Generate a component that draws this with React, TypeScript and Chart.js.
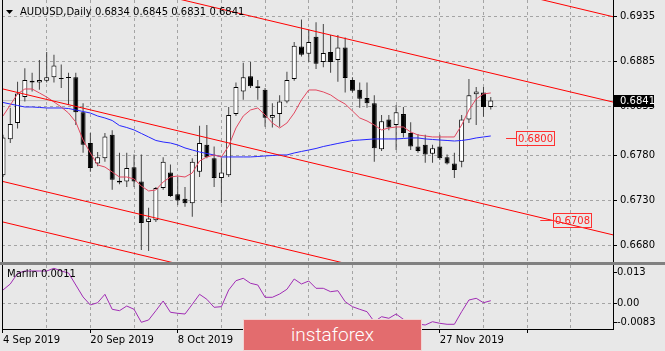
import React, { useEffect, useRef } from 'react';
import { Chart, registerables } from 'chart.js';

Chart.register(...registerables);

// ---------- data ----------
const symbolTitle = 'AUDUSD,Daily';
const dateLabels = ['4 Sep 2019', '20 Sep 2019', '8 Oct 2019', '24 Oct 2019', '11 Nov 2019', '27 Nov 2019'];
const barsPerDateLabel = 12;
const barsPerGrid = 6;

const opens = [0.6758, 0.6798, 0.6816, 0.6845, 0.6863, 0.6861, 0.6863, 0.6867, 0.6866, 0.6867,
  0.6867, 0.6828, 0.6794, 0.6771, 0.6777, 0.6803, 0.6752, 0.6751, 0.6767, 0.6751,
  0.6706, 0.6708, 0.6744, 0.6761, 0.6737, 0.6732, 0.6727, 0.6762, 0.6792, 0.6777,
  0.6755, 0.6758, 0.6826, 0.6851, 0.6868, 0.6857, 0.6853, 0.6822, 0.6826, 0.6840,
  0.6865, 0.6901, 0.6893, 0.6912, 0.6884, 0.6895, 0.6886, 0.6900, 0.6864, 0.6853,
  0.6844, 0.6838, 0.6787, 0.6820, 0.6814, 0.6826, 0.6805, 0.6790, 0.6792, 0.6782,
  0.6790, 0.6778, 0.6771, 0.6773, 0.6820, 0.6848, 0.6850, 0.6834];
const highs = [0.6803, 0.6833, 0.6862, 0.6877, 0.6872, 0.6886, 0.6895, 0.6892, 0.6881, 0.6872,
  0.6872, 0.6838, 0.6805, 0.6784, 0.6805, 0.6808, 0.6783, 0.6783, 0.6781, 0.6781,
  0.6722, 0.6745, 0.6778, 0.6770, 0.6756, 0.6745, 0.6777, 0.6813, 0.6814, 0.6790,
  0.6777, 0.6834, 0.6861, 0.6883, 0.6884, 0.6864, 0.6855, 0.6838, 0.6847, 0.6873,
  0.6906, 0.6931, 0.6920, 0.6928, 0.6926, 0.6914, 0.6914, 0.6911, 0.6867, 0.6861,
  0.6861, 0.6847, 0.6825, 0.6825, 0.6836, 0.6834, 0.6817, 0.6804, 0.6803, 0.6792,
  0.6803, 0.6781, 0.6783, 0.6825, 0.6865, 0.6856, 0.6856, 0.6845];
const lows = [0.6756, 0.6794, 0.6810, 0.6840, 0.6851, 0.6853, 0.6861, 0.6861, 0.6855, 0.6836,
  0.6814, 0.6783, 0.6762, 0.6768, 0.6773, 0.6742, 0.6748, 0.6745, 0.6745, 0.6675,
  0.6674, 0.6706, 0.6742, 0.6734, 0.6725, 0.6723, 0.6712, 0.6756, 0.6777, 0.6745,
  0.6727, 0.6756, 0.6824, 0.6842, 0.6855, 0.6842, 0.6812, 0.6811, 0.6812, 0.6838,
  0.6863, 0.6890, 0.6884, 0.6876, 0.6878, 0.6872, 0.6862, 0.6850, 0.6850, 0.6833,
  0.6833, 0.6773, 0.6785, 0.6808, 0.6786, 0.6800, 0.6786, 0.6783, 0.6772, 0.6772,
  0.6775, 0.6770, 0.6755, 0.6767, 0.6816, 0.6814, 0.6823, 0.6831];
const closes = [0.6800, 0.6815, 0.6849, 0.6864, 0.6861, 0.6864, 0.6867, 0.6880, 0.6865, 0.6866,
  0.6828, 0.6792, 0.6766, 0.6778, 0.6801, 0.6753, 0.6750, 0.6766, 0.6751, 0.6705,
  0.6710, 0.6744, 0.6773, 0.6735, 0.6730, 0.6727, 0.6773, 0.6794, 0.6778, 0.6755,
  0.6761, 0.6825, 0.6856, 0.6867, 0.6857, 0.6855, 0.6822, 0.6825, 0.6840, 0.6864,
  0.6902, 0.6892, 0.6906, 0.6882, 0.6894, 0.6884, 0.6900, 0.6866, 0.6852, 0.6843,
  0.6838, 0.6788, 0.6818, 0.6811, 0.6828, 0.6805, 0.6790, 0.6785, 0.6781, 0.6788,
  0.6777, 0.6771, 0.6764, 0.6820, 0.6847, 0.6851, 0.6834, 0.6841];

const balanceLine = [0.68239, 0.68361, 0.68484, 0.68539, 0.68539, 0.68495, 0.68450, 0.68395, 0.68339, 0.68272,
  0.68172, 0.67972, 0.67828, 0.67695, 0.67672, 0.67617, 0.67561, 0.67561, 0.67539, 0.67461,
  0.67406, 0.67417, 0.67506, 0.67561, 0.67572, 0.67561, 0.67606, 0.67739, 0.67784, 0.67806,
  0.67784, 0.67906, 0.68106, 0.68239, 0.68306, 0.68328, 0.68250, 0.68161, 0.68106, 0.68161,
  0.68272, 0.68417, 0.68528, 0.68528, 0.68506, 0.68473, 0.68417, 0.68372, 0.68295, 0.68217,
  0.68184, 0.68139, 0.68084, 0.68106, 0.68117, 0.68117, 0.68061, 0.68028, 0.68017, 0.68006,
  0.68006, 0.68006, 0.68006, 0.68139, 0.68306, 0.68428, 0.68484, 0.68495];
const kruzenshternLine = [0.68389, 0.68372, 0.68356, 0.68339, 0.68339, 0.68334, 0.68328, 0.68328, 0.68328, 0.68322,
  0.68306, 0.68289, 0.68272, 0.68239, 0.68217, 0.68189, 0.68133, 0.68111, 0.68084, 0.68045,
  0.68006, 0.67967, 0.67950, 0.67939, 0.67917, 0.67884, 0.67861, 0.67839, 0.67822, 0.67806,
  0.67784, 0.67784, 0.67784, 0.67784, 0.67784, 0.67789, 0.67795, 0.67800, 0.67806, 0.67806,
  0.67828, 0.67845, 0.67861, 0.67878, 0.67900, 0.67917, 0.67934, 0.67950, 0.67967, 0.67972,
  0.67978, 0.67984, 0.67984, 0.67984, 0.67984, 0.67989, 0.67995, 0.67995, 0.67984, 0.67978,
  0.67972, 0.67967, 0.67961, 0.67967, 0.67978, 0.67995, 0.68006, 0.68017];
const marlin = [0.00565, 0.0082, 0.01274, 0.01372, 0.01372, 0.01372, 0.01372, 0.01487, 0.01372, 0.01287,
  0.00777, 0.00268, -0.00072, 0.00025, 0.00382, -0.00255, -0.00314, -0.00115, -0.00255, -0.00807,
  -0.00709, -0.00314, 0.00098, -0.00382, -0.00425, -0.00455, -0.00042, 0.00382, 0.0017, -0.0017,
  -0.00144, 0.00565, 0.0096, 0.01062, 0.0085, 0.00777, 0.00255, 0.00255, 0.00395, 0.00595,
  0.01032, 0.0082, 0.00947, 0.00637, 0.00637, 0.00493, 0.00535, 0.00068, -0.00144, -0.00255,
  -0.00357, -0.00782, -0.00569, -0.00637, -0.00455, -0.0068, -0.00794, -0.0088, -0.00922, -0.00782,
  -0.0085, -0.00892, -0.00892, -0.00357, 0.0014, 0.00212, 0.00025, 0.0011];

// straight channel lines: price at start bar and at end bar
const trendStartBar = 0;
const trendEndBar = 84;
const trendStartPrices = [0.70963, 0.70002, 0.68539, 0.67511, 0.67061];
const trendEndPrices = [0.69338, 0.68390, 0.66914, 0.65886, 0.65436];

// target level labels
const levelPrices = [0.6800, 0.6708];
const levelLineFromBar = [69.1, 73.8];
const levelBoxAtBar = [70.5, 75.5];

const priceTicks = [0.6935, 0.6885, 0.6835, 0.6780, 0.6730, 0.6680];
const marlinTicks = [0.013, 0, -0.0083];
const marlinTickLabels = ['0.013', '0.00', '-0.0083'];

// ---------- view ----------
const X_MIN = -0.137;
const X_MAX = 83.79;
const Y_MIN = 0.666167;
const Y_MAX = 0.695278;
const SUB_MIN = -0.01092;
const SUB_MAX = 0.01627;

const BG = '#e8e8e8';
const GRID = '#a4a4a4';
const FONT = "'DejaVu Sans', sans-serif";
const RED = '#ff0000';

const N = closes.length;
const bars = closes.map((_, i) => i);
const gridBars: number[] = [];
for (let v = 0; v <= X_MAX; v += barsPerGrid) gridBars.push(v);

const mainOverlay = {
  id: 'mainOverlay',
  afterDraw(chart: any) {
    const { ctx, chartArea, scales } = chart;
    const xs = scales.x;
    const ys = scales.y;
    ctx.save();
    ctx.lineWidth = 1;
    ctx.strokeStyle = '#000';
    ctx.beginPath();
    ctx.moveTo(chartArea.left + 0.5, chartArea.top);
    ctx.lineTo(chartArea.left + 0.5, chartArea.bottom);
    ctx.stroke();

    ctx.font = '10px ' + FONT;
    ctx.textBaseline = 'middle';
    ctx.textAlign = 'left';
    levelPrices.forEach((p, k) => {
      const y = Math.round(ys.getPixelForValue(p)) + 0.5;
      const x0 = xs.getPixelForValue(levelLineFromBar[k]);
      const bx = Math.round(xs.getPixelForValue(levelBoxAtBar[k])) + 0.5;
      const text = p.toFixed(4);
      const w = Math.ceil(ctx.measureText(text).width) + 3;
      ctx.strokeStyle = '#ff3030';
      ctx.beginPath();
      ctx.moveTo(x0, y);
      ctx.lineTo(bx, y);
      ctx.stroke();
      ctx.strokeRect(bx, y - 7, w, 14);
      ctx.fillStyle = '#ff2020';
      ctx.fillText(text, bx + 1.5, y + 0.5);
    });

    const last = closes[N - 1];
    const by = Math.round(ys.getPixelForValue(last));
    ctx.fillStyle = '#000';
    ctx.fillRect(chartArea.right + 1, by - 6, 40, 12);
    ctx.fillStyle = '#fff';
    ctx.fillText(last.toFixed(4), chartArea.right + 7, by + 0.5);

    ctx.fillStyle = '#000';
    ctx.beginPath();
    ctx.moveTo(6, 10);
    ctx.lineTo(13, 10);
    ctx.lineTo(9.5, 14);
    ctx.closePath();
    ctx.fill();
    const title = symbolTitle + ' ' + [opens[N - 1], highs[N - 1], lows[N - 1], closes[N - 1]].map((v) => v.toFixed(4)).join(' ');
    ctx.fillText(title, 20, 12);
    ctx.restore();
  },
};

const subOverlay = {
  id: 'subOverlay',
  afterDraw(chart: any) {
    const { ctx, chartArea } = chart;
    ctx.save();
    ctx.lineWidth = 1;
    ctx.strokeStyle = '#000';
    ctx.beginPath();
    ctx.moveTo(chartArea.left + 0.5, chartArea.top);
    ctx.lineTo(chartArea.left + 0.5, chartArea.bottom);
    ctx.stroke();
    ctx.font = '10px ' + FONT;
    ctx.fillStyle = '#000';
    ctx.textBaseline = 'middle';
    ctx.textAlign = 'left';
    ctx.fillText('Marlin ' + marlin[N - 1].toFixed(4), 7, chartArea.top + 9);
    ctx.restore();
  },
};

export default function App() {
  const mainRef = useRef<HTMLCanvasElement>(null);
  const subRef = useRef<HTMLCanvasElement>(null);

  useEffect(() => {
    Chart.defaults.font.family = FONT;
    Chart.defaults.font.size = 10;
    Chart.defaults.color = '#000';

    const lineDs = (data: any[], color: string, order: number) => ({
      type: 'line' as const,
      data,
      borderColor: color,
      borderWidth: 1,
      pointRadius: 0,
      tension: 0,
      fill: false,
      order,
    });

    const trendSets = trendStartPrices.map((p, k) =>
      lineDs([{ x: trendStartBar, y: p }, { x: trendEndBar, y: trendEndPrices[k] }], RED, 0)
    );

    const main = new Chart(mainRef.current as HTMLCanvasElement, {
      type: 'bar',
      data: {
        datasets: [
          lineDs([{ x: X_MIN, y: closes[N - 1] }, { x: X_MAX, y: closes[N - 1] }], '#bdbdbd', 6),
          {
            type: 'bar',
            data: bars.map((i) => ({ x: i, y: [lows[i], highs[i]] })),
            backgroundColor: '#444444',
            borderWidth: 0,
            maxBarThickness: 1,
            grouped: false,
            inflateAmount: 0,
            order: 5,
          },
          {
            type: 'bar',
            data: bars.map((i) => ({ x: i, y: [opens[i], closes[i]] })),
            backgroundColor: bars.map((i) => (closes[i] >= opens[i] ? '#ffffff' : '#000000')),
            borderColor: '#000000',
            borderWidth: 1,
            borderSkipped: false,
            maxBarThickness: 5,
            minBarLength: 1,
            grouped: false,
            inflateAmount: 0,
            order: 4,
          },
          lineDs(bars.map((i) => ({ x: i, y: kruzenshternLine[i] })), '#2626ff', 2),
          lineDs(bars.map((i) => ({ x: i, y: balanceLine[i] })), '#e2475f', 1),
          ...trendSets,
        ] as any,
      },
      options: {
        responsive: false,
        animation: false,
        devicePixelRatio: 1,
        events: [],
        layout: { padding: { left: 2, right: 0, top: 0, bottom: 0 } },
        plugins: { legend: { display: false }, tooltip: { enabled: false } },
        scales: {
          x: {
            type: 'linear',
            min: X_MIN,
            max: X_MAX,
            bounds: 'data',
            offset: false,
            afterBuildTicks: (s: any) => { s.ticks = gridBars.map((v) => ({ value: v })); },
            afterFit: (s: any) => { s.height = 0; s.paddingLeft = 0; s.paddingRight = 0; },
            ticks: { display: false },
            grid: { color: GRID, drawTicks: false, offset: false, lineWidth: 1 },
            border: { display: false, dash: [3, 3] },
          },
          y: {
            type: 'linear',
            position: 'right',
            min: Y_MIN,
            max: Y_MAX,
            bounds: 'data',
            beginAtZero: false,
            afterBuildTicks: (s: any) => { s.ticks = priceTicks.map((v) => ({ value: v })); },
            afterFit: (s: any) => { s.width = 52; s.paddingTop = 0; s.paddingBottom = 0; },
            ticks: { callback: (v: any) => Number(v).toFixed(4), padding: 3, autoSkip: false, color: '#000' },
            grid: { color: GRID, tickColor: '#000', tickLength: 4, drawTicks: true },
            border: { display: true, color: '#000', dash: [3, 3] },
          },
        },
      } as any,
      plugins: [mainOverlay],
    });

    const sub = new Chart(subRef.current as HTMLCanvasElement, {
      type: 'line',
      data: {
        datasets: [lineDs(bars.map((i) => ({ x: i, y: marlin[i] })), '#a02cb4', 0)] as any,
      },
      options: {
        responsive: false,
        animation: false,
        devicePixelRatio: 1,
        events: [],
        layout: { padding: { left: 2, right: 0, top: 0, bottom: 0 } },
        plugins: { legend: { display: false }, tooltip: { enabled: false } },
        scales: {
          x: {
            type: 'linear',
            min: X_MIN,
            max: X_MAX,
            bounds: 'data',
            afterBuildTicks: (s: any) => { s.ticks = gridBars.map((v) => ({ value: v })); },
            afterFit: (s: any) => { s.height = 22; s.paddingLeft = 0; s.paddingRight = 0; },
            ticks: {
              autoSkip: false,
              maxRotation: 0,
              minRotation: 0,
              align: 'start',
              padding: 1,
              color: '#000',
              callback: (v: any) => {
                const n = Math.round(Number(v));
                return n % barsPerDateLabel === 0 ? dateLabels[n / barsPerDateLabel] || '' : '';
              },
            },
            grid: {
              color: GRID,
              tickLength: 4,
              tickColor: (c: any) => (c.tick && Math.round(c.tick.value) % barsPerDateLabel === 0 ? '#000' : 'rgba(0,0,0,0)'),
            },
            border: { display: true, color: '#000', dash: [3, 3] },
          },
          y: {
            type: 'linear',
            position: 'right',
            min: SUB_MIN,
            max: SUB_MAX,
            bounds: 'data',
            afterBuildTicks: (s: any) => { s.ticks = marlinTicks.map((v) => ({ value: v })); },
            afterFit: (s: any) => { s.width = 52; s.paddingTop = 0; s.paddingBottom = 0; },
            ticks: { callback: (_v: any, i: number) => marlinTickLabels[i], padding: 0, autoSkip: false, color: '#000' },
            grid: {
              color: (c: any) => (c.tick && c.tick.value === 0 ? GRID : 'rgba(0,0,0,0)'),
              tickColor: '#000',
              tickLength: 4,
            },
            border: { display: true, color: '#000', dash: [3, 3] },
          },
        },
      } as any,
      plugins: [subOverlay],
    });

    return () => {
      main.destroy();
      sub.destroy();
    };
  }, []);

  return (
    <div style={{ position: 'fixed', left: 0, top: 0, width: 665, height: 351, background: BG, overflow: 'hidden' }}>
      <canvas ref={mainRef} width={665} height={262} style={{ position: 'absolute', left: 0, top: 0 }} />
      <div style={{ position: 'absolute', left: 0, top: 262, width: 665, height: 3, background: '#808080' }} />
      <canvas ref={subRef} width={665} height={86} style={{ position: 'absolute', left: 0, top: 265 }} />
      <div
        style={{
          position: 'absolute',
          left: 243,
          top: 319,
          width: 179,
          height: 32,
          boxSizing: 'border-box',
          background: '#e36c6e',
          border: '1px solid #f2d4d4',
          color: '#ffffff',
          fontFamily: 'Roboto, sans-serif',
          fontWeight: 300,
          fontSize: 19,
          lineHeight: '30px',
          textAlign: 'center',
        }}
      >
        instaforex
      </div>
    </div>
  );
}
